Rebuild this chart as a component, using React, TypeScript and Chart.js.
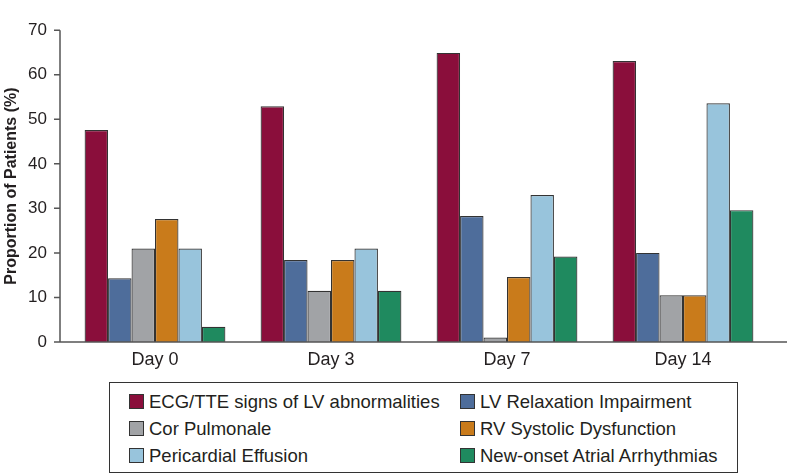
import React, { useEffect, useRef } from "react";
import { Chart, registerables } from "chart.js";

Chart.register(...registerables);

const categories = ["Day 0", "Day 3", "Day 7", "Day 14"];
const seriesNames = [
  "ECG/TTE signs of LV abnormalities",
  "LV Relaxation Impairment",
  "Cor Pulmonale",
  "RV Systolic Dysfunction",
  "Pericardial Effusion",
  "New-onset Atrial Arrhythmias",
];
const ecgTte = [47.6, 52.9, 64.9, 63.1];
const lvRelaxation = [14.3, 18.4, 28.3, 20.0];
const corPulmonale = [21.0, 11.5, 1.0, 10.5];
const rvSystolic = [27.6, 18.4, 14.6, 10.5];
const pericardial = [21.0, 21.0, 33.0, 53.6];
const atrialArrhythmias = [3.4, 11.5, 19.2, 29.6];
const seriesValues = [ecgTte, lvRelaxation, corPulmonale, rvSystolic, pericardial, atrialArrhythmias];
const seriesColors = ["#8a0e3b", "#4e6d9b", "#a1a3a6", "#c97b1b", "#98c4dc", "#1f8a5f"];
const yTicks = { min: 0, max: 70, step: 10 };
const yTitle = "Proportion of Patients (%)";

const FONT = "'Liberation Sans', Arial, Helvetica, sans-serif";
const TEXT = "#231f20";
const AXIS_GAP = 7;

const axesPlugin = {
  id: "customAxes",
  afterDatasetsDraw(chart: any) {
    const { ctx, chartArea, scales } = chart;
    const y = scales.y;
    const ax = chartArea.left - AXIS_GAP;
    ctx.save();
    ctx.strokeStyle = "#555";
    ctx.lineWidth = 1.5;
    ctx.beginPath();
    ctx.moveTo(ax, chartArea.top);
    ctx.lineTo(ax, chartArea.bottom);
    ctx.moveTo(ax - 0.75, chartArea.bottom);
    ctx.lineTo(chart.width, chartArea.bottom);
    y.ticks.forEach((t: any) => {
      const py = y.getPixelForValue(t.value);
      ctx.moveTo(ax - 6, py);
      ctx.lineTo(ax, py);
    });
    ctx.stroke();
    ctx.restore();
  },
};

export default function App() {
  const ref = useRef<HTMLCanvasElement | null>(null);

  useEffect(() => {
    if (!ref.current) return;
    const chart = new Chart(ref.current, {
      type: "bar",
      data: {
        labels: categories,
        datasets: seriesNames.map((name, i) => ({
          label: name,
          data: seriesValues[i],
          backgroundColor: seriesColors[i],
          borderColor: "#333",
          borderWidth: 1.2,
          barPercentage: 1,
          categoryPercentage: 0.8,
        })),
      },
      options: {
        responsive: false,
        animation: false,
        devicePixelRatio: 1,
        layout: { padding: { top: 10, right: 16, left: 0, bottom: 0 } },
        plugins: { legend: { display: false }, tooltip: { enabled: false } },
        scales: {
          x: {
            type: "category",
            offset: true,
            grid: { display: false, drawTicks: false },
            border: { display: false },
            ticks: { color: TEXT, font: { family: FONT, size: 18 }, padding: 7 },
            afterFit: (s: any) => {
              s.height = 38;
            },
          },
          y: {
            min: yTicks.min,
            max: yTicks.max,
            grid: { display: false, drawTicks: false },
            border: { display: false },
            ticks: { stepSize: yTicks.step, color: TEXT, font: { family: FONT, size: 17 }, padding: 20 },
            title: {
              display: true,
              text: yTitle,
              color: TEXT,
              font: { family: FONT, size: 16, weight: "bold" },
              padding: { top: 2, bottom: 0 },
            },
            afterFit: (s: any) => {
              s.width = 67;
            },
          },
        },
      },
      plugins: [axesPlugin],
    } as any);
    return () => chart.destroy();
  }, []);

  return (
    <div style={{ position: "absolute", left: 0, top: 0, width: 787, height: 475, background: "#fff" }}>
      <canvas ref={ref} width={787} height={380} style={{ display: "block" }} />
      <div
        style={{
          position: "absolute",
          left: 109,
          top: 382,
          width: 629,
          height: 91,
          boxSizing: "border-box",
          border: "1.5px solid #333",
          display: "grid",
          gridTemplateColumns: "331px auto",
          gridAutoRows: "27px",
          paddingLeft: 19,
          paddingTop: 5,
          fontFamily: FONT,
          fontSize: 18.5,
          color: TEXT,
        }}
      >
        {seriesNames.map((name, i) => (
          <div key={name} style={{ display: "flex", alignItems: "center", whiteSpace: "nowrap" }}>
            <span
              style={{
                display: "inline-block",
                width: 15,
                height: 15,
                boxSizing: "border-box",
                background: seriesColors[i],
                border: "1px solid #333",
                marginRight: 5,
                flex: "none",
              }}
            />
            <span>{name}</span>
          </div>
        ))}
      </div>
    </div>
  );
}
